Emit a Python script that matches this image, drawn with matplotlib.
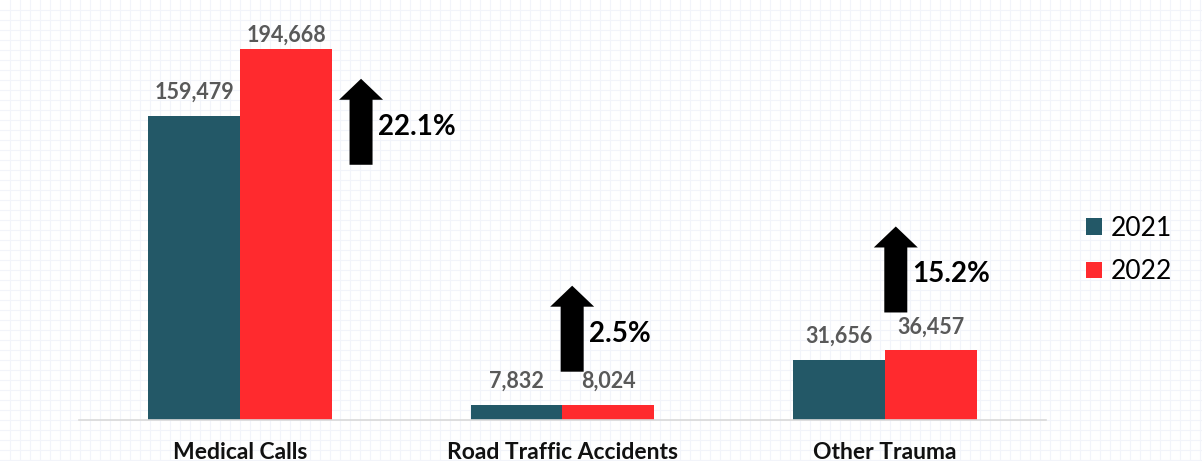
import numpy as np
import matplotlib.pyplot as plt
from matplotlib.patches import Polygon

categories = ["Medical Calls", "Road Traffic Accidents", "Other Trauma"]
years = ["2021", "2022"]
values_2021 = [159479, 7832, 31656]
values_2022 = [194668, 8024, 36457]
pct_change = ["22.1%", "2.5%", "15.2%"]

COL_2021 = "#235867"
COL_2022 = "#ff2a2e"

plt.rcParams["font.family"] = ["Lato", "DejaVu Sans"]

W, H = 1202, 461
fig = plt.figure(figsize=(W / 100, H / 100), dpi=100)

# faint paper grid behind everything
bg = fig.add_axes([0, 0, 1, 1], zorder=0)
bg.set_xlim(0, W)
bg.set_ylim(0, H)
for gx in range(10, W, 10):
    bg.axvline(gx, color="#f2f4fa", lw=0.8)
for gy in range(1, H, 10):
    bg.axhline(gy, color="#f2f4fa", lw=0.8)
bg.axis("off")

ax = fig.add_axes([79 / W, (H - 420) / H, 967 / W, 410 / H], zorder=1)
ax.patch.set_alpha(0)

x = np.arange(len(categories))
width = 0.285
b1 = ax.bar(x - width / 2, values_2021, width, color=COL_2021, label=years[0])
b2 = ax.bar(x + width / 2, values_2022, width, color=COL_2022, label=years[1])

ax.set_xlim(-0.5, 2.5)
ax.set_ylim(0, 215000)
for s in ["top", "right", "left"]:
    ax.spines[s].set_visible(False)
ax.spines["bottom"].set_color("#d9d9d9")
ax.spines["bottom"].set_linewidth(1.2)
ax.set_yticks([])
ax.set_xticks(x)
ax.set_xticklabels(categories, fontsize=16.5, fontweight="bold", color="#111111")
ax.tick_params(axis="x", length=0, pad=16)

# value labels, kept inside the plot area
fig.canvas.draw()
top_px = ax.transAxes.transform((0, 1))[1]
for bars in (b1, b2):
    for rect in bars:
        h = rect.get_height()
        cx = rect.get_x() + rect.get_width() / 2
        bar_top = ax.transData.transform((cx, h))[1]
        off = min(13, top_px - 36 - bar_top)
        ax.annotate(f"{h:,}", xy=(cx, h), xytext=(0, off),
                    textcoords="offset pixels", ha="center", va="bottom",
                    fontsize=15.5, fontweight="bold", color="#595959")

# growth arrows: (x shift in category units, gap in px above taller bar)
arrow_pos = [(0.375, -116), (0.03, 33), (0.034, 38)]
shaft_w, head_w, head_l, length = 23, 44, 21, 86
for i, (dx, gap) in enumerate(arrow_pos):
    top_val = max(values_2021[i], values_2022[i])
    ax_, ay_ = ax.transData.transform((x[i] + dx, top_val))
    y0 = ay_ + gap
    y1 = y0 + length
    pts = [
        (ax_ - shaft_w / 2, y0), (ax_ + shaft_w / 2, y0),
        (ax_ + shaft_w / 2, y1 - head_l), (ax_ + head_w / 2, y1 - head_l),
        (ax_, y1), (ax_ - head_w / 2, y1 - head_l),
        (ax_ - shaft_w / 2, y1 - head_l),
    ]
    fig.patches.append(Polygon(pts, closed=True, transform=None,
                               facecolor="black", edgecolor="none", zorder=3))
    fig.text((ax_ + shaft_w / 2 + 5) / W, (y0 + 38) / H, pct_change[i],
             fontsize=20, fontweight="bold", color="black",
             ha="left", va="center")

fig.legend(handles=[b1, b2], labels=years, loc="center left",
           bbox_to_anchor=(1062 / W, 1 - 250 / H), frameon=False,
           fontsize=19, handlelength=0.6, handleheight=0.6,
           handletextpad=0.35, labelspacing=0.7)

fig.savefig("out.png", dpi=100)
